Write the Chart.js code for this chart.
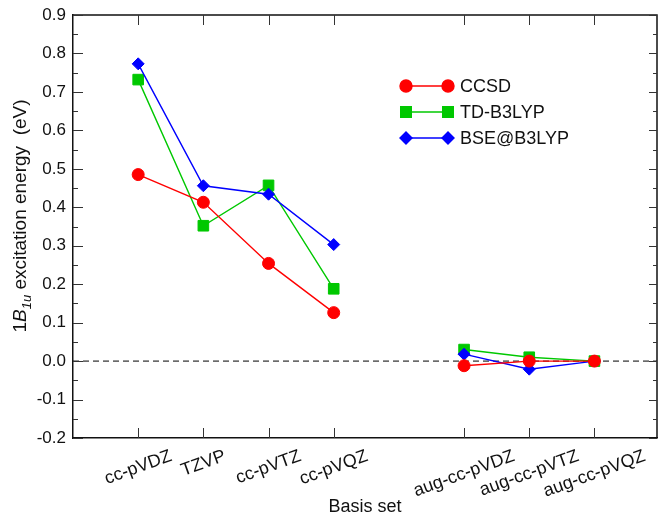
<!DOCTYPE html>
<html>
<head>
<meta charset="utf-8">
<script src="https://cdn.jsdelivr.net/npm/chart.js@4.4.0/dist/chart.umd.min.js"></script>
<style>
  body { margin: 0; background: #fff; }
</style>
</head>
<body>
<canvas id="chart" width="658" height="516"></canvas>
<script>
const basisSets = ['cc-pVDZ', 'TZVP', 'cc-pVTZ', 'cc-pVQZ', '', 'aug-cc-pVDZ', 'aug-cc-pVTZ', 'aug-cc-pVQZ'];
const ccsd = [0.485, 0.413, 0.254, 0.126, null, -0.012, 0.000, 0.000];
const tdB3lyp = [0.732, 0.352, 0.457, 0.188, null, 0.030, 0.010, 0.000];
const bseB3lyp = [0.773, 0.456, 0.434, 0.303, null, 0.018, -0.021, 0.000];
const seriesNames = ['CCSD', 'TD-B3LYP', 'BSE@B3LYP'];
const yMin = -0.2;
const yMax = 0.9;

const FONT = "'Liberation Sans', Arial, sans-serif";

function toPoints(values) {
    return values.map((v, i) => ({ x: i + 1, y: v }));
}

function makeSet(label, values, color, style, radius, order) {
    return {
        label: label,
        data: toPoints(values),
        borderColor: color,
        backgroundColor: color,
        pointBackgroundColor: color,
        pointBorderColor: color,
        pointBorderWidth: 1,
        pointStyle: style,
        pointRadius: radius,
        borderWidth: 1.4,
        order: order,
        clip: false
    };
}

const decorations = {
    id: 'decorations',
    beforeDatasetsDraw(chart) {
        const { ctx, chartArea: a, scales: { y } } = chart;
        const y0 = y.getPixelForValue(0);
        ctx.save();
        ctx.strokeStyle = '#000';
        ctx.lineWidth = 1;
        ctx.setLineDash([6, 4]);
        ctx.beginPath();
        ctx.moveTo(a.left, y0);
        ctx.lineTo(a.right, y0);
        ctx.stroke();
        ctx.restore();
    },
    afterDraw(chart) {
        const { ctx, chartArea: a, scales: { x, y } } = chart;
        ctx.save();

        // frame top and right
        ctx.strokeStyle = '#111';
        ctx.lineWidth = 1.5;
        ctx.beginPath();
        ctx.moveTo(a.left, a.top);
        ctx.lineTo(a.right, a.top);
        ctx.lineTo(a.right, a.bottom);
        ctx.stroke();

        // inner tick marks
        ctx.strokeStyle = '#333';
        ctx.lineWidth = 1;
        ctx.beginPath();
        y.ticks.forEach(t => {
            const py = Math.round(y.getPixelForValue(t.value)) + 0.5;
            const major = t.label !== '';
            ctx.moveTo(a.left, py);
            ctx.lineTo(a.left + (major ? 10 : 5), py);
            ctx.moveTo(a.right, py);
            ctx.lineTo(a.right - (major ? 8 : 4), py);
        });
        basisSets.forEach((name, i) => {
            if (!name) return;
            const px = Math.round(x.getPixelForValue(i + 1)) + 0.5;
            ctx.moveTo(px, a.bottom);
            ctx.lineTo(px, a.bottom - 10);
            ctx.moveTo(px, a.top);
            ctx.lineTo(px, a.top + 10);
        });
        ctx.stroke();

        // rotated category labels, centred under ticks
        ctx.fillStyle = '#111';
        ctx.font = '18px ' + FONT;
        ctx.textAlign = 'center';
        ctx.textBaseline = 'middle';
        const ang = 20 * Math.PI / 180;
        basisSets.forEach((name, i) => {
            if (!name) return;
            const w = ctx.measureText(name).width;
            const halfH = (w * Math.sin(ang) + 14 * Math.cos(ang)) / 2;
            ctx.save();
            ctx.translate(x.getPixelForValue(i + 1), a.bottom + 11 + halfH);
            ctx.rotate(-ang);
            ctx.fillText(name, 0, 0);
            ctx.restore();
        });

        // x title
        ctx.fillText('Basis set', (a.left + a.right) / 2, 507);

        // y title with italic B and subscript
        const parts = [
            { t: '1', f: '19px ' + FONT, dy: 0 },
            { t: 'B', f: 'italic 19px ' + FONT, dy: 0 },
            { t: '1u', f: 'italic 13px ' + FONT, dy: 6 },
            { t: ' excitation energy  (eV)', f: '19px ' + FONT, dy: 0 }
        ];
        let total = 0;
        parts.forEach(p => { ctx.font = p.f; p.w = ctx.measureText(p.t).width; total += p.w; });
        ctx.save();
        ctx.translate(21, 216);
        ctx.rotate(-Math.PI / 2);
        ctx.textAlign = 'left';
        let cx = -total / 2;
        parts.forEach(p => {
            ctx.font = p.f;
            ctx.fillText(p.t, cx, p.dy);
            cx += p.w;
        });
        ctx.restore();

        // legend: line with a marker at each end
        const legendY = [86, 112, 138];
        chart.data.datasets.forEach((ds, i) => {
            const ly = legendY[i];
            ctx.strokeStyle = ds.borderColor;
            ctx.fillStyle = ds.borderColor;
            ctx.lineWidth = 1.4;
            ctx.beginPath();
            ctx.moveTo(406, ly);
            ctx.lineTo(448, ly);
            ctx.stroke();
            [406, 448].forEach(px => {
                Chart.helpers.drawPoint(ctx, {
                    pointStyle: ds.pointStyle,
                    radius: ds.pointRadius,
                    rotation: 0,
                    borderWidth: 1
                }, px, ly);
            });
            ctx.fillStyle = '#111';
            ctx.font = '18px ' + FONT;
            ctx.textAlign = 'left';
            ctx.textBaseline = 'middle';
            ctx.fillText(ds.label, 460, ly + 1);
        });

        ctx.restore();
    }
};

new Chart(document.getElementById('chart'), {
    type: 'line',
    data: {
        datasets: [
            makeSet(seriesNames[0], ccsd, '#ff0000', 'circle', 6, 0),
            makeSet(seriesNames[1], tdB3lyp, '#00c800', 'rect', 7.5, 2),
            makeSet(seriesNames[2], bseB3lyp, '#0000ff', 'rectRot', 6, 1)
        ]
    },
    options: {
        responsive: false,
        animation: false,
        layout: { autoPadding: false, padding: { top: 15, right: 1, left: 0, bottom: 0 } },
        plugins: {
            legend: { display: false },
            tooltip: { enabled: false }
        },
        scales: {
            x: {
                type: 'linear',
                min: 0,
                max: 8.96,
                ticks: { display: false },
                grid: { display: false, drawTicks: false },
                border: { display: true, color: '#111', width: 1.5 },
                afterFit(scale) {
                    scale.height = 78;
                    scale.paddingLeft = 0;
                    scale.paddingRight = 0;
                }
            },
            y: {
                min: yMin,
                max: yMax,
                ticks: {
                    stepSize: 0.05,
                    autoSkip: false,
                    padding: 7,
                    color: '#111',
                    font: { family: FONT, size: 17 },
                    callback: v => {
                        const k = Math.round(v * 100);
                        return k % 10 === 0 ? (k / 100).toFixed(1) : '';
                    }
                },
                grid: { display: false, drawTicks: false },
                border: { display: true, color: '#111', width: 1.5 },
                afterFit(scale) {
                    scale.width = 73;
                    scale.paddingTop = 0;
                    scale.paddingBottom = 0;
                }
            }
        }
    },
    plugins: [decorations]
});
</script>
</body>
</html>
